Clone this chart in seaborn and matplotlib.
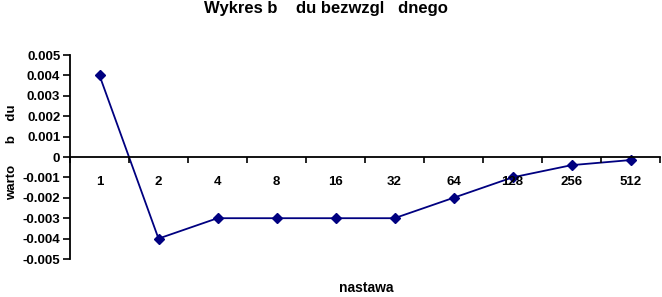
import matplotlib
matplotlib.use("Agg")
import matplotlib.pyplot as plt
import seaborn as sns
import pandas as pd
from matplotlib.ticker import FixedLocator, FixedFormatter

# ---- data ----
categories = ["1", "2", "4", "8", "16", "32", "64", "128", "256", "512"]
values = [0.004, -0.004, -0.003, -0.003, -0.003, -0.003, -0.002, -0.001, -0.0004, -0.00015]
y_ticks = [0.005, 0.004, 0.003, 0.002, 0.001, 0.0, -0.001, -0.002, -0.003, -0.004, -0.005]
y_tick_labels = ["0.005", "0.004", "0.003", "0.002", "0.001", "0", "-0.001", "-0.002",
                 "-0.003", "-0.004", "-0.005"]
title_text = "Wykres b    du bezwzgl   dnego"
ylabel_text = "warto      b    du"
xlabel_text = "nastawa"

sns.set_theme(style="white")
plt.rcParams['font.family'] = ['Liberation Sans', 'DejaVu Sans']
plt.rcParams['font.weight'] = 'bold'

df = pd.DataFrame({"nastawa": categories, "value": values})

W, H = 662, 297
fig = plt.figure(figsize=(W / 100, H / 100), dpi=100)
ax = fig.add_axes([70 / W, 1 - 259 / H, 590 / W, 204 / H])

sns.pointplot(data=df, x="nastawa", y="value", ax=ax, color="#000080",
              markers="D", linewidth=1.3, markersize=5.5, errorbar=None)

ax.set_xlim(-0.5, len(categories) - 0.5)
ax.set_ylim(-0.005, 0.005)

# y axis
ax.yaxis.set_major_locator(FixedLocator(y_ticks))
ax.yaxis.set_major_formatter(FixedFormatter(y_tick_labels))
ax.tick_params(axis="y", direction="out", length=5, width=1.2, color="black",
               labelsize=9.5, pad=2, left=True)

# x axis at zero
ax.spines["bottom"].set_position(("data", 0))
ax.spines["top"].set_visible(False)
ax.spines["right"].set_visible(False)
for s in ("left", "bottom"):
    ax.spines[s].set_color("black")
    ax.spines[s].set_linewidth(1.3)
ax.set_xticks(range(len(categories)))
ax.set_xticklabels(categories)
ax.set_xticks([i - 0.5 for i in range(len(categories) + 1)], minor=True)
ax.tick_params(axis="x", which="major", length=0, pad=14, labelsize=9.5, bottom=True)
ax.tick_params(axis="x", which="minor", direction="out", length=4.5, width=1.2,
               color="black", bottom=True)
for lbl in ax.get_xticklabels() + ax.get_yticklabels():
    lbl.set_fontweight("bold")
    lbl.set_color("black")
ax.set_axisbelow(False)
ax.set_xlabel("")
ax.set_ylabel("")
ax.grid(False)

fig.text(326 / W, 1 - 9 / H, title_text, ha="center", va="center",
         fontsize=12, fontweight="bold", color="black")
fig.text(12 / W, 1 - 152 / H, ylabel_text, ha="center", va="center", rotation=90,
         fontsize=9.5, fontweight="bold", color="black")
fig.text(366 / W, 1 - 288 / H, xlabel_text, ha="center", va="center",
         fontsize=10, fontweight="bold", color="black")

fig.savefig("out.png", dpi=100, facecolor="white")
